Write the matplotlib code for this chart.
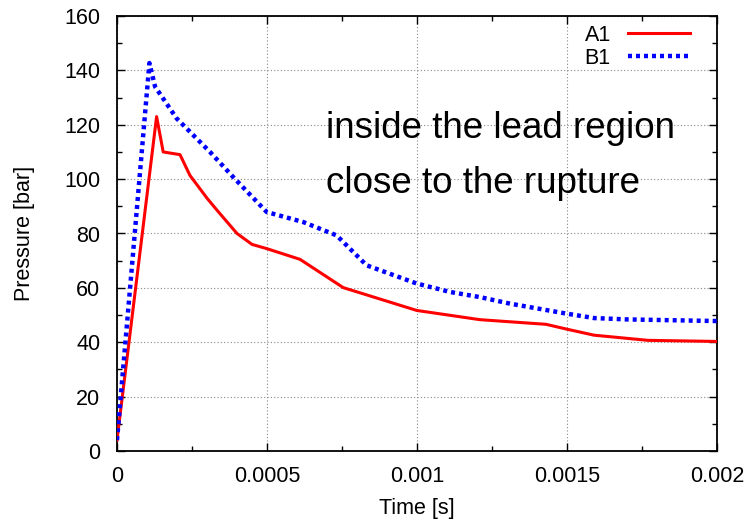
import numpy as np
import matplotlib
matplotlib.use("Agg")
import matplotlib.pyplot as plt
from matplotlib.ticker import MultipleLocator

plt.rcParams['font.family'] = ['Liberation Sans', 'DejaVu Sans']

# A1: inside the lead region
t_a1 = [0.0, 0.000132, 0.000154, 0.00021, 0.000243, 0.0003, 0.00033, 0.0004,
        0.00045, 0.0005, 0.00061, 0.000754, 0.000999, 0.00121, 0.00143,
        0.0015, 0.00159, 0.00177, 0.002]
p_a1 = [4, 123, 110, 109, 101.4, 93, 89, 80, 76, 74.4, 70.5, 60.1, 51.7,
        48.3, 46.6, 44.8, 42.6, 40.7, 40.3]

# B1: close to the rupture
t_b1 = [0.0, 0.000108, 0.000127, 0.000199, 0.00031, 0.000387, 0.000499,
        0.000621, 0.000732, 0.000832, 0.000999, 0.00111, 0.00121, 0.00131,
        0.0015, 0.00159, 0.0017, 0.002]
p_b1 = [4, 142.7, 134, 122.3, 110, 100.8, 87.9, 84.2, 79.3, 68.3, 61.6,
        58.5, 56.6, 54.2, 50.5, 48.9, 48.4, 47.8]

x_ticks = [0, 0.0005, 0.001, 0.0015, 0.002]
x_labels = ['0', '0.0005', '0.001', '0.0015', '0.002']

fig = plt.figure(figsize=(7.49, 5.22), dpi=100)
ax = fig.add_axes([117/749, 71/522, 600/749, 435/522])

ax.plot(t_a1, p_a1, color='#ff0000', lw=2.2, label='A1', zorder=3)
ax.plot(t_b1, p_b1, color='#0000ff', lw=3.2, ls=(0, (0.9, 0.9)), label='B1', zorder=3)

ax.set_xlim(0, 0.002)
ax.set_ylim(0, 160)
ax.set_xticks(x_ticks)
ax.set_xticklabels(x_labels)
ax.xaxis.set_minor_locator(MultipleLocator(0.00025))
ax.yaxis.set_major_locator(MultipleLocator(20))
ax.yaxis.set_minor_locator(MultipleLocator(10))

ax.tick_params(which='both', direction='in', top=True, right=True, labelsize=15.5, color='black')
ax.tick_params(which='major', length=6, width=1)
ax.tick_params(which='minor', length=3.5, width=1)
ax.tick_params(axis='x', pad=11)
ax.tick_params(axis='y', pad=12)
for s in ax.spines.values():
    s.set_linewidth(1.3)

ax.grid(True, which='major', color='#888888', ls=(0, (1, 2)), lw=0.8)

ax.set_xlabel('Time [s]', fontsize=15.5, labelpad=8)
ax.set_ylabel('Pressure [bar]', fontsize=15.5, labelpad=21)

ax.text(0.000697, 118.7, 'inside the lead region', fontsize=26.5, va='center')
ax.text(0.000697, 98.5, 'close to the rupture', fontsize=26.5, va='center')

ax.legend(loc='upper right', bbox_to_anchor=(0.97, 1.0), frameon=False,
          markerfirst=False, fontsize=15.5, handlelength=2.9,
          handletextpad=0.8, labelspacing=0.1, borderaxespad=0)

fig.savefig('out.png', dpi=100)
